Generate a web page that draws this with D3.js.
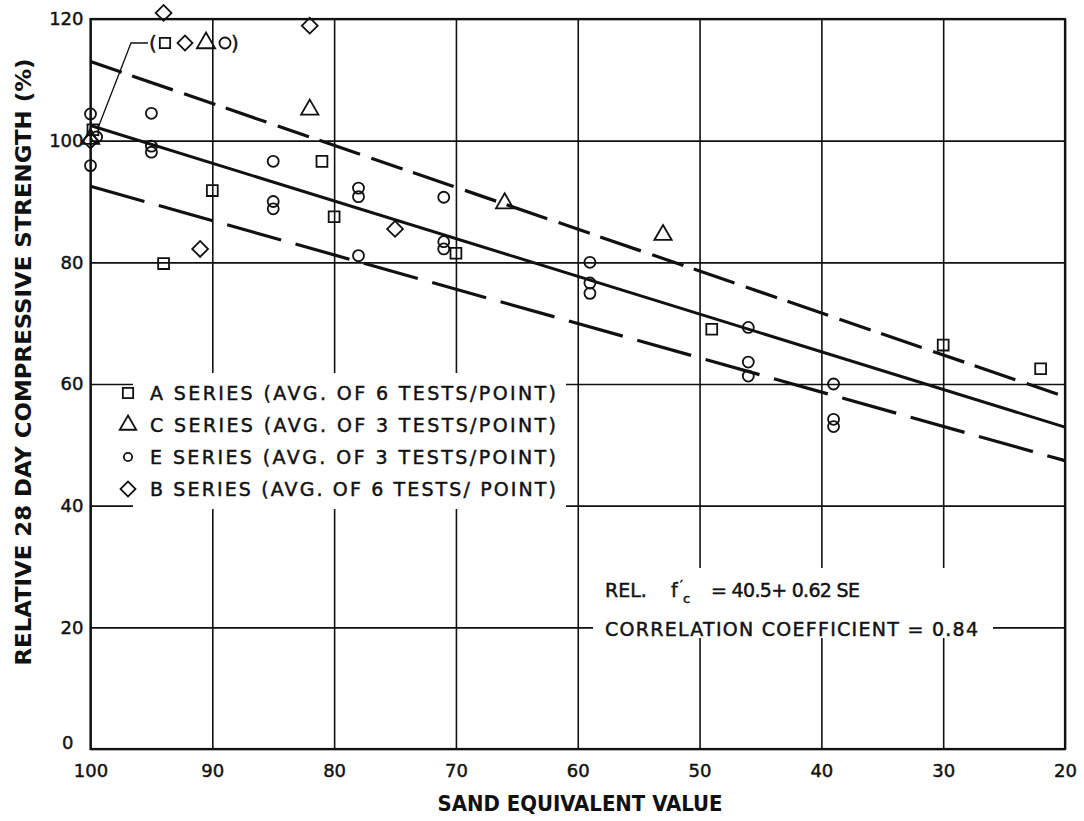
<!DOCTYPE html>
<html>
<head>
<meta charset="utf-8">
<script src="https://cdn.jsdelivr.net/npm/d3@7"></script>
<style>
    body { margin: 0; background: #fff; }
    svg { display: block; }
    text { fill: #111; stroke: #111; stroke-width: 0.45px; }
</style>
</head>
<body>
<svg id="chart" width="1084" height="821"></svg>
<script>
// sand equivalent value vs relative strength
const seriesA = [[94, 79.8], [90, 91.8], [81, 96.6], [80, 87.5], [70, 81.5], [49, 69], [30, 66.4], [22, 62.5], [99.8, 101.8]];
const seriesC = [[82, 105.1], [66, 89.7], [53, 84.5], [100, 100.3]];
const seriesE = [[100, 104.4], [100, 95.9], [95, 104.5], [95, 99.1], [95, 98.1], [85, 96.6], [85, 90], [85, 88.8],
    [78, 92.2], [78, 90.8], [78, 81.1], [71, 90.7], [71, 83.4], [71, 82.2], [59, 80], [59, 76.6], [59, 74.9],
    [46, 69.3], [46, 63.6], [46, 61.3], [39, 60], [39, 54.2], [39, 53], [99.5, 100.6]];
const seriesB = [[94, 121], [82, 118.9], [91, 82.2], [75, 85.5], [100, 100]];

// regression line and the two bounds (end points)
const fitLine = [[100, 102.5], [20, 52.9]];
const upperLine = [[100, 113], [20, 57.9]];
const lowerLine = [[100, 92.5], [20, 47.4]];

const xTicks = [100, 90, 80, 70, 60, 50, 40, 30, 20];
const yTicks = [0, 20, 40, 60, 80, 100, 120];

const legendRows = [
    { shape: 'square', label: 'A  SERIES  (AVG.  OF 6 TESTS/POINT)' },
    { shape: 'triangle', label: 'C  SERIES  (AVG.  OF 3 TESTS/POINT)' },
    { shape: 'circle', label: 'E  SERIES  (AVG.  OF 3 TESTS/POINT)' },
    { shape: 'diamond', label: 'B  SERIES  (AVG.  OF 6 TESTS/ POINT)' },
];

const ink = '#111';
const svg = d3.select('#chart');

const x = d3.scaleLinear().domain([100, 20]).range([90.5, 1065]);
const y = d3.scaleLinear().domain([0, 120]).range([749, 19]);
const plotH = y(0) - y(120);
const plotW = x(20) - x(100);

function symbolPath(shape, scale) {
    const s = scale || 1;
    return {
        square: d3.symbol(d3.symbolSquare, 118 * s * s)(),
        circle: d3.symbol(d3.symbolCircle, 95 * s * s)(),
        triangle: d3.symbol(d3.symbolTriangle, 130 * s * s)(),
        diamond: d3.symbol(d3.symbolSquare, 125 * s * s)(),
    }[shape];
}

function drawMarks(g, data, shape, scale) {
    g.selectAll(null)
        .data(data)
        .enter()
        .append('path')
        .attr('d', symbolPath(shape, scale))
        .attr('transform', d => `translate(${x(d[0])},${y(d[1])})${shape === 'diamond' ? ' rotate(45)' : ''}`)
        .attr('fill', 'none')
        .attr('stroke', ink)
        .attr('stroke-width', 1.8);
}

// gridlines + tick labels
const xAxis = d3.axisBottom(x)
    .tickValues(xTicks)
    .tickSize(-plotH)
    .tickPadding(15)
    .tickFormat(d3.format('d'));
const yAxis = d3.axisLeft(y)
    .tickValues(yTicks)
    .tickSize(-plotW)
    .tickPadding(7)
    .tickFormat(d3.format('d'));

const gx = svg.append('g')
    .attr('transform', `translate(0,${y(0)})`)
    .call(xAxis);
const gy = svg.append('g')
    .attr('transform', `translate(${x(100)},0)`)
    .call(yAxis);

[gx, gy].forEach((g) => {
    g.select('.domain').remove();
    g.selectAll('line').attr('stroke', ink).attr('stroke-width', 1.6);
    g.selectAll('text')
        .attr('fill', ink)
        .style('font-family', 'DejaVu Sans, sans-serif')
        .style('font-size', '18px');
});
gy.selectAll('text').filter(d => d === 0).attr('dy', '-0.05em').attr('x', -17);

// white boxes that interrupt the grid
svg.append('rect')
    .attr('x', 133).attr('y', 373)
    .attr('width', 433).attr('height', 136)
    .attr('fill', '#fff');
svg.append('rect')
    .attr('x', 593).attr('y', 568)
    .attr('width', 400).attr('height', 70)
    .attr('fill', '#fff');

// plot frame
svg.append('rect')
    .attr('x', x(100)).attr('y', y(120))
    .attr('width', plotW).attr('height', plotH)
    .attr('fill', 'none')
    .attr('stroke', ink)
    .attr('stroke-width', 2.2);

// fit and bounds
const line = d3.line().x(d => x(d[0])).y(d => y(d[1]));
svg.append('path')
    .attr('d', line(fitLine))
    .attr('fill', 'none')
    .attr('stroke', ink)
    .attr('stroke-width', 3);
svg.append('path')
    .attr('d', line(upperLine))
    .attr('fill', 'none')
    .attr('stroke', ink)
    .attr('stroke-width', 3.2)
    .attr('stroke-dasharray', '33,11,43,12');
svg.append('path')
    .attr('d', line(lowerLine))
    .attr('fill', 'none')
    .attr('stroke', ink)
    .attr('stroke-width', 3.2)
    .attr('stroke-dasharray', '56,15');

// data points
const marks = svg.append('g');
drawMarks(marks, seriesA, 'square');
drawMarks(marks, seriesC, 'triangle');
drawMarks(marks, seriesE, 'circle');
drawMarks(marks, seriesB, 'diamond');

// annotation for the coincident points at 100
const note = svg.append('g').attr('transform', 'translate(0,43)');
note.append('path')
    .attr('d', 'M148,0 L131,0 L98,85')
    .attr('fill', 'none')
    .attr('stroke', ink)
    .attr('stroke-width', 1.3);
note.append('text').attr('x', 149).attr('y', 7).style('font-family', 'DejaVu Sans, sans-serif').style('font-size', '20px').text('(');
note.append('text').attr('x', 231).attr('y', 7).style('font-family', 'DejaVu Sans, sans-serif').style('font-size', '20px').text(')');
[['square', 165, 0.95], ['diamond', 185, 0.95], ['triangle', 206, 1.05], ['circle', 225, 1]].forEach(([shape, cx, s]) => {
    note.append('path')
        .attr('d', symbolPath(shape, s))
        .attr('transform', `translate(${cx},0)${shape === 'diamond' ? ' rotate(45)' : ''}`)
        .attr('fill', 'none')
        .attr('stroke', ink)
        .attr('stroke-width', 1.8);
});

// legend
const legend = svg.append('g');
legendRows.forEach((row, i) => {
    const ry = 393 + i * 32;
    legend.append('path')
        .attr('d', symbolPath(row.shape, row.shape === 'circle' ? 0.75 : 0.95))
        .attr('transform', `translate(128,${ry})${row.shape === 'diamond' ? ' rotate(45)' : ''}`)
        .attr('fill', 'none')
        .attr('stroke', ink)
        .attr('stroke-width', 1.8);
    legend.append('text')
        .attr('x', 150)
        .attr('y', ry + 7)
        .attr('textLength', 406)
        .attr('lengthAdjust', 'spacing')
        .style('font-family', 'DejaVu Sans, sans-serif')
        .style('font-size', '19px')
        .text(row.label);
});

// equation
const eq = svg.append('g').style('font-family', 'DejaVu Sans, sans-serif').style('font-size', '19px');
eq.append('text').attr('x', 605).attr('y', 597).text('REL.');
eq.append('text').attr('x', 671).attr('y', 597).text('f');
eq.append('text').attr('x', 680).attr('y', 589).style('font-size', '12px').text('′');
eq.append('text').attr('x', 683).attr('y', 603).style('font-size', '13px').text('c');
eq.append('text').attr('x', 711).attr('y', 597).attr('textLength', 149).attr('lengthAdjust', 'spacing').text('= 40.5+ 0.62 SE');
eq.append('text')
    .attr('x', 605)
    .attr('y', 636)
    .attr('textLength', 373)
    .attr('lengthAdjust', 'spacing')
    .text('CORRELATION  COEFFICIENT = 0.84');

// axis titles
svg.append('text')
    .attr('transform', 'translate(31,362) rotate(-90)')
    .attr('text-anchor', 'middle')
    .attr('textLength', 607)
    .attr('lengthAdjust', 'spacingAndGlyphs')
    .style('font-family', 'Liberation Sans Narrow, DejaVu Sans Condensed, sans-serif')
    .style('font-weight', 'bold')
    .style('font-size', '22px')
    .style('stroke-width', '0px')
    .text('RELATIVE 28 DAY  COMPRESSIVE  STRENGTH (%)');
svg.append('text')
    .attr('x', 580)
    .attr('y', 811)
    .attr('text-anchor', 'middle')
    .attr('textLength', 285)
    .attr('lengthAdjust', 'spacingAndGlyphs')
    .style('font-family', 'Liberation Sans Narrow, DejaVu Sans Condensed, sans-serif')
    .style('font-weight', 'bold')
    .style('font-size', '21px')
    .style('stroke-width', '0px')
    .text('SAND EQUIVALENT VALUE');
</script>
</body>
</html>
